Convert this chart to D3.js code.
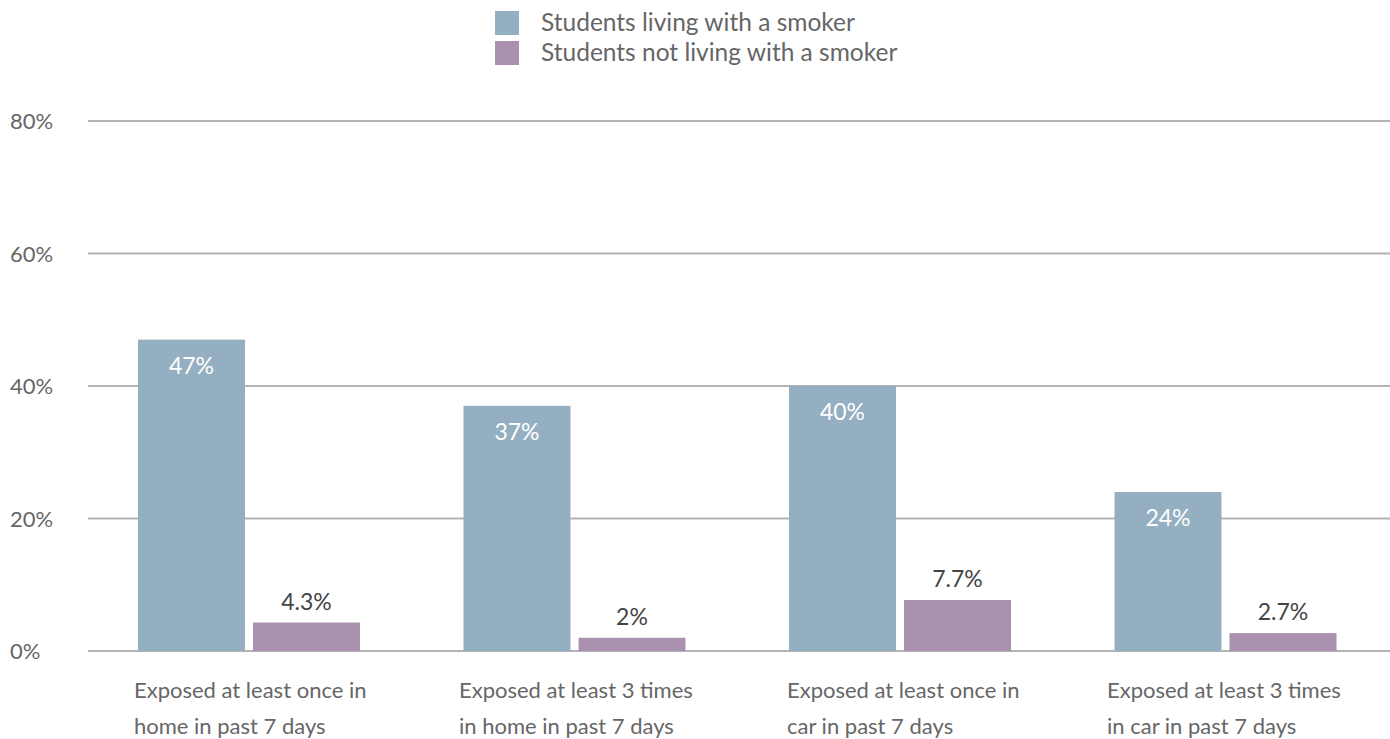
<!DOCTYPE html>
<html>
<head>
<meta charset="utf-8">
<script src="https://cdn.jsdelivr.net/npm/d3@7"></script>
<style>
  body { margin: 0; background: #fff; }
  svg text { font-family: Lato, "Open Sans", sans-serif; }
</style>
</head>
<body>
<svg id="chart" width="1390" height="739"></svg>
<script>
const categories = [
  ["Exposed at least once in", "home in past 7 days"],
  ["Exposed at least 3 times", "in home in past 7 days"],
  ["Exposed at least once in", "car in past 7 days"],
  ["Exposed at least 3 times", "in car in past 7 days"]
]
const seriesNames = ["Students living with a smoker", "Students not living with a smoker"]
const livingWith = [47, 37, 40, 24]
const notLivingWith = [4.3, 2, 7.7, 2.7]
const yTicks = [0, 20, 40, 60, 80]
const colors = ["#94afc1", "#aa91b0"]

const svg = d3.select("#chart")
const margin = {top: 121, right: 0, bottom: 88, left: 88}
const width = 1390, height = 739

const x0 = d3.scaleBand()
  .domain(d3.range(categories.length))
  .range([margin.left, width - margin.right])

const x1 = d3.scaleBand()
  .domain([0, 1])
  .range([50, 272])
  .paddingInner(0.07)

const y = d3.scaleLinear()
  .domain([0, 80])
  .range([height - margin.bottom, margin.top])

// gridlines
svg.append("g")
  .selectAll("line")
  .data(yTicks)
  .join("line")
    .attr("x1", margin.left)
    .attr("x2", width)
    .attr("y1", d => y(d))
    .attr("y2", d => y(d))
    .attr("stroke", "#b3b3b3")
    .attr("stroke-width", 2)

svg.append("g")
  .selectAll("text")
  .data(yTicks)
  .join("text")
    .attr("x", 10)
    .attr("y", d => y(d) + 8)
    .attr("font-size", 22)
    .attr("fill", "#666")
    .text(d => d + "%")

const data = categories.map((c, i) => ({i, vals: [livingWith[i], notLivingWith[i]]}))

const groups = svg.append("g")
  .selectAll("g")
  .data(data)
  .join("g")
    .attr("transform", d => `translate(${x0(d.i)},0)`)

groups.selectAll("rect")
  .data(d => d.vals.map((v, s) => ({v, s})))
  .join("rect")
    .attr("x", d => x1(d.s))
    .attr("y", d => y(d.v))
    .attr("width", x1.bandwidth())
    .attr("height", d => y(0) - y(d.v))
    .attr("fill", d => colors[d.s])

groups.selectAll("text.val")
  .data(d => d.vals.map((v, s) => ({v, s})))
  .join("text")
    .attr("class", "val")
    .attr("x", d => x1(d.s) + x1.bandwidth() / 2)
    .attr("y", d => d.s === 0 ? y(d.v) + 34 : y(d.v) - 13)
    .attr("text-anchor", "middle")
    .attr("font-size", 23)
    .attr("fill", d => d.s === 0 ? "#fff" : "#444")
    .text(d => d.v + "%")

// x labels, left aligned under each group
const labelOffsets = [46, 45.5, 48, 42.5]
groups.append("text")
  .attr("font-size", 22)
  .attr("fill", "#666")
  .selectAll("tspan")
  .data(d => categories[d.i].map(line => ({line, i: d.i})))
  .join("tspan")
    .attr("x", d => labelOffsets[d.i])
    .attr("y", (d, k) => 698 + k * 36)
    .text(d => d.line)

// legend
const legend = svg.append("g")
  .selectAll("g")
  .data(seriesNames)
  .join("g")
    .attr("transform", (d, i) => `translate(495,${11 + i * 30})`)
legend.append("rect")
  .attr("width", 24)
  .attr("height", 24)
  .attr("fill", (d, i) => colors[i])
legend.append("text")
  .attr("x", 46)
  .attr("y", 20)
  .attr("font-size", 24.5)
  .attr("fill", "#666")
  .text(d => d)
</script>
</body>
</html>
